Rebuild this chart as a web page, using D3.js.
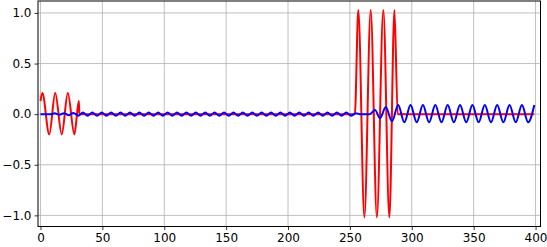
<!DOCTYPE html>
<html>
<head>
<meta charset="utf-8">
<script src="https://cdn.jsdelivr.net/npm/d3@7"></script>
<style>
  body { margin: 0; background: #fff; }
  svg text { font-family: "DejaVu Sans", sans-serif; font-size: 12px; fill: #000; }
</style>
</head>
<body>
<svg id="chart" width="547" height="247"></svg>
<script>
// key points (extrema)
const redX = [0, 1.5, 7.1, 11.9, 17.2, 22.1, 27.4, 31.0, 31.4, 254.0, 256.8, 261.7, 266.8, 271.8, 277.0, 281.9, 286.0, 288.6, 399];
const redY = [0.13, 0.21, -0.20, 0.21, -0.20, 0.21, -0.20, 0.13, 0, 0, 1.03, -1.02, 1.03, -1.02, 1.03, -1.02, 1.03, 0, 0];

const blueX = [0, 9, 11.5, 15.3, 19.1, 22.9, 26.7, 30.5, 34.3, 38.1, 41.9, 45.7, 49.5, 53.3, 57.1, 60.9,
  64.7, 68.5, 72.3, 76.1, 79.9, 83.7, 87.5, 91.3, 95.1, 98.9, 102.7, 106.5, 110.3, 114.1, 117.9, 121.7,
  125.5, 129.3, 133.1, 136.9, 140.7, 144.5, 148.3, 152.1, 155.9, 159.7, 163.5, 167.3, 171.1, 174.9,
  178.7, 182.5, 186.3, 190.1, 193.9, 197.7, 201.5, 205.3, 209.1, 212.9, 216.7, 220.5, 224.3, 228.1,
  231.9, 235.7, 239.5, 243.3, 247.1, 250.9, 254.7,
  258, 266, 270.3, 274.3, 279, 284, 289, 294, 299, 304, 309, 314, 319, 324, 329, 334, 339, 344,
  349, 354, 359, 364, 369, 374, 379, 384, 389, 394, 399];
const blueY = [0, 0, 0.008, -0.006, 0.01, -0.01, 0.012, -0.015, 0.016, -0.016, 0.016, -0.016, 0.016, -0.016,
  0.016, -0.016, 0.016, -0.016, 0.016, -0.016, 0.016, -0.016, 0.016, -0.016, 0.016, -0.016, 0.016, -0.016,
  0.016, -0.016, 0.016, -0.016, 0.016, -0.016, 0.016, -0.016, 0.016, -0.016, 0.016, -0.016, 0.016, -0.016,
  0.016, -0.016, 0.016, -0.016, 0.016, -0.016, 0.016, -0.016, 0.016, -0.016, 0.016, -0.016, 0.016, -0.016,
  0.016, -0.016, 0.016, -0.016, 0.016, -0.016, 0.016, -0.016, 0.016, -0.016, 0.01,
  0, 0, 0.04, -0.04, 0.07, -0.07, 0.09, -0.08, 0.09, -0.08, 0.09, -0.08, 0.09, -0.08, 0.09, -0.08, 0.09,
  -0.08, 0.09, -0.08, 0.09, -0.08, 0.09, -0.08, 0.09, -0.08, 0.09, -0.08, 0.09];

const xTicks = [0, 50, 100, 150, 200, 250, 300, 350, 400];
const yTicks = [-1.0, -0.5, 0.0, 0.5, 1.0];

const svg = d3.select("#chart");
const pLeft = 38, pRight = 540.5, pTop = 1, pBottom = 226.5;

const x = d3.scaleLinear().domain([-2, 404]).range([pLeft, pRight]);
const y = d3.scaleLinear().domain([-1.11, 1.118]).range([pBottom, pTop]);

// grid
svg.append("g").selectAll("line").data(xTicks).join("line")
  .attr("x1", d => x(d)).attr("x2", d => x(d))
  .attr("y1", pTop).attr("y2", pBottom)
  .attr("stroke", "#b0b0b0").attr("stroke-width", 0.8);
svg.append("g").selectAll("line").data(yTicks).join("line")
  .attr("x1", pLeft).attr("x2", pRight)
  .attr("y1", d => y(d)).attr("y2", d => y(d))
  .attr("stroke", "#b0b0b0").attr("stroke-width", 0.8);

// lines
const line = d3.line().curve(d3.curveMonotoneX)
  .x(d => x(d[0])).y(d => y(d[1]));
svg.append("clipPath").attr("id", "clip").append("rect")
  .attr("x", pLeft).attr("y", pTop).attr("width", pRight - pLeft).attr("height", pBottom - pTop);

svg.append("path").datum(d3.zip(redX, redY))
  .attr("d", line).attr("fill", "none")
  .attr("stroke", "#ff0000").attr("stroke-width", 2)
  .attr("clip-path", "url(#clip)");
svg.append("path").datum(d3.zip(blueX, blueY))
  .attr("d", line).attr("fill", "none")
  .attr("stroke", "#0000ff").attr("stroke-width", 2)
  .attr("clip-path", "url(#clip)");

// frame
svg.append("rect")
  .attr("x", pLeft).attr("y", pTop).attr("width", pRight - pLeft).attr("height", pBottom - pTop)
  .attr("fill", "none").attr("stroke", "#000").attr("stroke-width", 1);

// axes
const xAxis = svg.append("g").attr("transform", `translate(0,${pBottom})`)
  .call(d3.axisBottom(x).tickValues(xTicks).tickSize(3.5).tickPadding(3).tickFormat(d3.format("d")));
const yAxis = svg.append("g").attr("transform", `translate(${pLeft},0)`)
  .call(d3.axisLeft(y).tickValues(yTicks).tickSize(3.5).tickPadding(3).tickFormat(d3.format(".1f")));
[xAxis, yAxis].forEach(a => {
  a.select(".domain").remove();
  a.selectAll(".tick line").attr("stroke", "#000").attr("stroke-width", 0.8);
  a.selectAll("text").attr("font-size", 12).attr("font-family", "DejaVu Sans, sans-serif").attr("fill", "#000");
});
</script>
</body>
</html>
